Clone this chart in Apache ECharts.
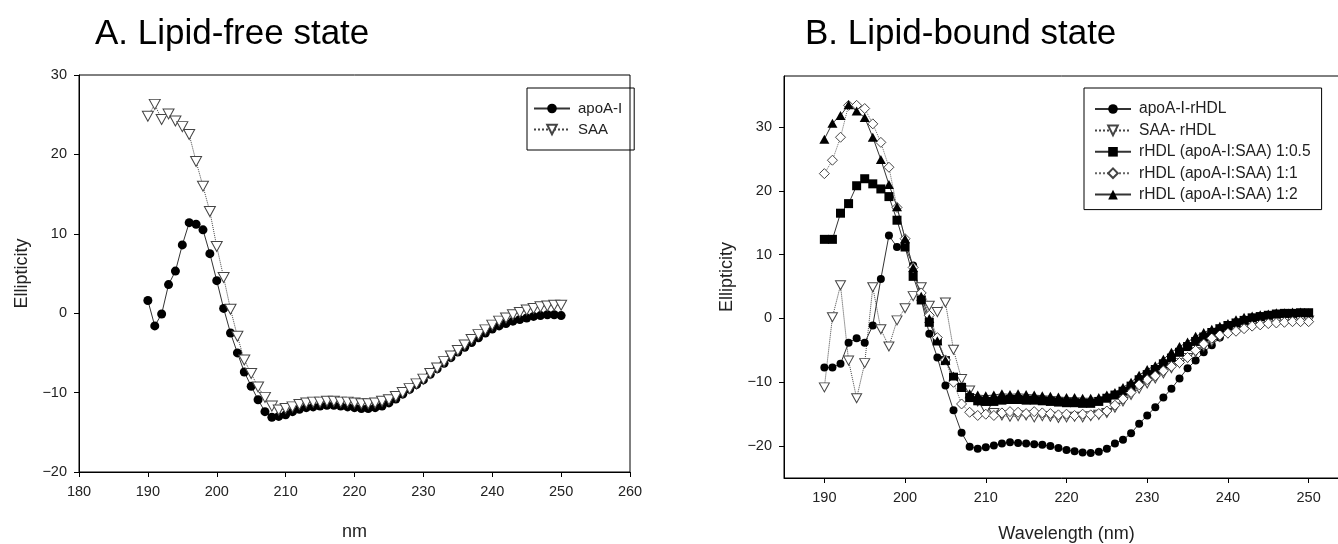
<!DOCTYPE html>
<html>
<head>
<meta charset="utf-8">
<script src="https://cdn.jsdelivr.net/npm/echarts@6/dist/echarts.min.js"></script>
<style>
html, body { margin: 0; padding: 0; background: #fff; }
#box { width: 1338px; height: 544px; }
</style>
</head>
<body>
<div id="box"></div>
<script>
// wavelengths (nm)
var nm = [190,191,192,193,194,195,196,197,198,199,200,201,202,203,204,205,206,207,208,209,
  210,211,212,213,214,215,216,217,218,219,220,221,222,223,224,225,226,227,228,229,
  230,231,232,233,234,235,236,237,238,239,240,241,242,243,244,245,246,247,248,249,250];

// A. lipid-free state
var apoA = [1.6,-1.6,-0.1,3.6,5.3,8.6,11.4,11.2,10.5,7.5,4.1,0.6,-2.5,-5.0,-7.4,-9.2,-10.9,-12.4,-13.1,-13.0,
  -12.8,-12.4,-12.1,-11.9,-11.8,-11.7,-11.6,-11.6,-11.7,-11.8,-11.9,-12.0,-12.0,-11.9,-11.7,-11.3,-10.8,-10.2,-9.6,-9.0,
  -8.4,-7.7,-7.0,-6.3,-5.6,-4.9,-4.3,-3.7,-3.1,-2.5,-2.0,-1.6,-1.3,-1.0,-0.8,-0.6,-0.4,-0.3,-0.2,-0.2,-0.3];
var saa = [24.8,26.3,24.4,25.1,24.2,23.5,22.5,19.1,16.0,12.8,8.4,4.5,0.5,-2.9,-5.9,-7.6,-9.3,-10.6,-11.7,-12.2,
  -12.0,-11.8,-11.5,-11.3,-11.2,-11.2,-11.1,-11.1,-11.2,-11.2,-11.3,-11.4,-11.4,-11.3,-11.1,-10.9,-10.5,-10.0,-9.5,-8.9,
  -8.3,-7.6,-6.9,-6.1,-5.4,-4.7,-4.0,-3.3,-2.7,-2.1,-1.5,-1.0,-0.6,-0.2,0.1,0.4,0.6,0.8,0.9,1.0,1.0];

// B. lipid-bound state
var apoRhdl = [-7.7,-7.7,-7.1,-3.8,-3.1,-3.8,-1.1,6.2,13.0,11.2,11.2,8.3,3.0,-2.4,-6.1,-10.5,-14.4,-17.9,-20.1,-20.4,
  -20.2,-19.9,-19.6,-19.4,-19.5,-19.6,-19.7,-19.8,-20.0,-20.3,-20.6,-20.8,-21.0,-21.1,-20.9,-20.4,-19.6,-19.0,-18.0,-16.5,
  -15.2,-13.9,-12.4,-11.0,-9.4,-7.8,-6.6,-5.3,-4.2,-3.0,-2.0,-1.3,-0.7,-0.2,0.2,0.4,0.6,0.7,0.8,0.8,0.8];
var saaRhdl = [-10.8,0.2,5.2,-6.6,-12.5,-7.0,4.9,-1.7,-4.4,-0.3,1.6,3.5,4.9,2.0,1.0,2.5,-4.9,-9.5,-11.3,-13.0,
  -14.3,-14.8,-15.2,-15.4,-15.3,-15.2,-15.5,-15.3,-15.4,-15.6,-15.5,-15.4,-15.5,-15.3,-15.1,-14.8,-14.0,-13.0,-12.0,-11.0,
  -10.2,-9.4,-8.6,-7.8,-7.0,-6.2,-5.3,-4.4,-3.6,-2.9,-2.3,-1.8,-1.4,-1.1,-0.9,-0.7,-0.6,-0.5,-0.4,-0.3,-0.3];
var r105 = [12.4,12.4,16.5,18.0,20.8,21.9,21.1,20.3,19.1,15.4,11.2,6.6,2.9,-0.6,-3.5,-6.6,-9.2,-10.8,-12.4,-12.9,
  -13.0,-13.0,-12.8,-12.7,-12.7,-12.8,-12.8,-12.9,-13.0,-13.1,-13.2,-13.2,-13.3,-13.3,-13.0,-12.5,-12.0,-11.4,-10.6,-9.6,
  -8.8,-8.0,-7.1,-6.2,-5.3,-4.4,-3.6,-2.9,-2.2,-1.6,-1.1,-0.7,-0.3,0.1,0.3,0.5,0.7,0.8,0.8,0.9,0.9];
var r11 = [22.7,24.8,28.4,33.4,33.4,32.9,30.5,27.6,23.7,17.4,12.5,8.0,4.0,0.5,-3.0,-6.5,-10.0,-13.4,-14.7,-15.2,
  -15.0,-15.2,-14.8,-14.6,-14.7,-14.9,-14.6,-14.8,-14.9,-15.1,-15.0,-15.2,-15.0,-15.1,-14.9,-14.5,-13.6,-12.6,-11.6,-10.4,
  -9.6,-9.0,-8.2,-7.5,-6.9,-6.1,-5.0,-4.0,-3.1,-2.6,-2.3,-2.0,-1.6,-1.2,-1.0,-0.8,-0.7,-0.6,-0.5,-0.5,-0.5];
var r12 = [28.1,30.6,31.8,33.5,32.5,31.5,28.4,24.9,21.0,17.5,12.5,8.0,3.5,0.0,-3.5,-6.5,-9.0,-10.8,-11.8,-12.0,
  -12.1,-12.0,-11.8,-11.9,-11.8,-11.9,-12.0,-12.1,-12.2,-12.3,-12.4,-12.4,-12.5,-12.5,-12.4,-12.0,-11.6,-10.8,-10.0,-8.9,
  -8.0,-7.4,-6.4,-5.3,-4.4,-3.7,-2.8,-2.2,-1.7,-1.2,-0.8,-0.2,0.2,0.4,0.6,0.7,0.9,0.9,1.0,1.0,0.9];

var ticksB_x = [190,200,210,220,230,240,250];
var ticksB_y = [-20,-10,0,10,20,30];

function pairs(ys){
    var out = [];
    for (var i = 0; i < nm.length; i++) out.push([nm[i], ys[i]]);
    return out;
}
function minus(v){ return String(v).replace('-', '\u2212'); }

var font = 'Liberation Sans, Arial, sans-serif';
var ink = '#222';

function ax(grid, min, max, name, gap, extra){
    var a = {
        type: 'value', gridIndex: grid, min: min, max: max, name: name,
        nameLocation: 'middle', nameGap: gap,
        nameTextStyle: {fontFamily: font, fontSize: 18, color: ink},
        axisLine: {onZero: false, lineStyle: {color: '#000', width: 1}},
        axisTick: {show: true, length: 5, lineStyle: {color: '#000'}},
        axisLabel: {fontFamily: font, fontSize: 14.5, color: ink, margin: 12, formatter: minus},
        splitLine: {show: false}
    };
    for (var k in extra) a[k] = extra[k];
    return a;
}

var myChart = echarts.init(document.getElementById('box'));

option = {
    animation: false,
    backgroundColor: '#fff',
    title: [
        {text: 'A. Lipid-free state', left: 90, top: 12, textStyle: {fontFamily: font, fontSize: 35, fontWeight: 'normal', color: '#000'}},
        {text: 'B. Lipid-bound state', left: 800, top: 12, textStyle: {fontFamily: font, fontSize: 35, fontWeight: 'normal', color: '#000'}}
    ],
    grid: [
        {left: 79, top: 75, width: 551, height: 397, show: true, borderColor: '#000', borderWidth: 1, outerBoundsMode: 'none'},
        {left: 784, top: 76, width: 565, height: 402, show: true, borderColor: '#000', borderWidth: 1, outerBoundsMode: 'none'}
    ],
    xAxis: [
        ax(0, 180, 260, 'nm', 51, {interval: 10}),
        ax(1, 185, 255, 'Wavelength (nm)', 47, {
            axisTick: {show: true, length: 5, lineStyle: {color: '#000'}, customValues: ticksB_x},
            axisLabel: {fontFamily: font, fontSize: 14.5, color: ink, margin: 12, customValues: ticksB_x}
        })
    ],
    yAxis: [
        ax(0, -20, 30, 'Ellipticity', 48, {interval: 10}),
        ax(1, -25, 38, 'Ellipticity', 48, {
            axisTick: {show: true, length: 5, lineStyle: {color: '#000'}, customValues: ticksB_y},
            axisLabel: {fontFamily: font, fontSize: 14.5, color: ink, margin: 12, customValues: ticksB_y, formatter: minus}
        })
    ],
    legend: [
        {
            left: 527, top: 88, orient: 'vertical', padding: [13, 12, 13, 6],
            itemWidth: 36, itemHeight: 12, itemGap: 6,
            borderColor: '#000', borderWidth: 1,
            textStyle: {fontFamily: font, fontSize: 15, color: ink, padding: [0, 0, 0, 3]},
            data: ['apoA-I', 'SAA']
        },
        {
            left: 1084, top: 88, orient: 'vertical', padding: [13, 11, 7, 10],
            itemWidth: 36, itemHeight: 12, itemGap: 5.4,
            borderColor: '#000', borderWidth: 1,
            textStyle: {fontFamily: font, fontSize: 15.6, color: ink, padding: [0, 0, 0, 3]},
            data: ['apoA-I-rHDL', 'SAA- rHDL', 'rHDL (apoA-I:SAA) 1:0.5', 'rHDL (apoA-I:SAA) 1:1', 'rHDL (apoA-I:SAA) 1:2']
        }
    ],
    series: [
        {
            name: 'apoA-I', type: 'line', xAxisIndex: 0, yAxisIndex: 0, data: pairs(apoA),
            symbol: 'circle', symbolSize: 9,
            itemStyle: {color: '#000'},
            lineStyle: {color: '#333', width: 1}
        },
        {
            name: 'SAA', type: 'line', xAxisIndex: 0, yAxisIndex: 0, data: pairs(saa),
            symbol: 'triangle', symbolSize: [11, 10], symbolRotate: 180,
            itemStyle: {color: '#fff', borderColor: '#444', borderWidth: 1},
            lineStyle: {color: '#444', width: 1, type: 'dotted'}
        },
        {
            name: 'apoA-I-rHDL', type: 'line', xAxisIndex: 1, yAxisIndex: 1, data: pairs(apoRhdl),
            symbol: 'circle', symbolSize: 8,
            itemStyle: {color: '#000'},
            lineStyle: {color: '#333', width: 1}
        },
        {
            name: 'SAA- rHDL', type: 'line', xAxisIndex: 1, yAxisIndex: 1, data: pairs(saaRhdl),
            symbol: 'triangle', symbolSize: [10, 9], symbolRotate: 180,
            itemStyle: {color: '#fff', borderColor: '#444', borderWidth: 1},
            lineStyle: {color: '#444', width: 1, type: 'dotted'}
        },
        {
            name: 'rHDL (apoA-I:SAA) 1:0.5', type: 'line', xAxisIndex: 1, yAxisIndex: 1, data: pairs(r105),
            symbol: 'rect', symbolSize: 9,
            itemStyle: {color: '#000'},
            lineStyle: {color: '#333', width: 1}
        },
        {
            name: 'rHDL (apoA-I:SAA) 1:1', type: 'line', xAxisIndex: 1, yAxisIndex: 1, data: pairs(r11),
            symbol: 'diamond', symbolSize: 10,
            itemStyle: {color: '#fff', borderColor: '#444', borderWidth: 1},
            lineStyle: {color: '#666', width: 1, type: 'dotted'}
        },
        {
            name: 'rHDL (apoA-I:SAA) 1:2', type: 'line', xAxisIndex: 1, yAxisIndex: 1, data: pairs(r12),
            symbol: 'triangle', symbolSize: [10, 9],
            itemStyle: {color: '#000'},
            lineStyle: {color: '#333', width: 1}
        }
    ]
};

myChart.setOption(option);
</script>
</body>
</html>
